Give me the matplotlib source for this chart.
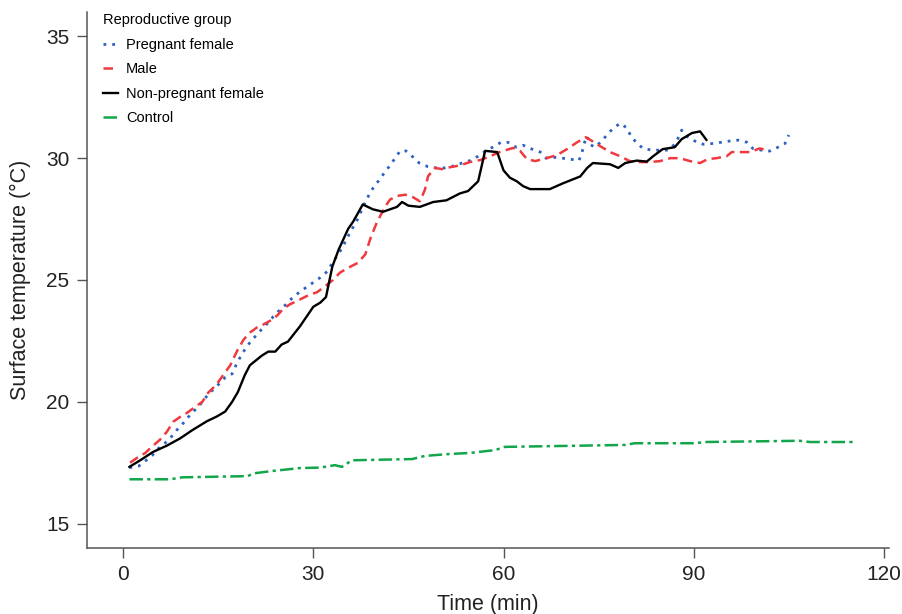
import matplotlib.pyplot as plt

# Surface temperature over time, per reproductive group
preg_t = [1.0, 2.4, 3.5, 4.6, 5.5, 6.6, 7.6, 8.5, 9.5, 10.3, 11.2, 12.1, 13.1, 14.0, 15.0,
          16.1, 17.2, 17.8, 18.4, 19.1, 19.9, 20.8, 21.8, 22.7, 23.7, 24.6, 25.7, 26.6,
          27.8, 28.9, 30.0, 31.1, 32.2, 33.0, 33.7, 34.4, 35.0, 35.8, 37.0, 38.2, 38.8,
          39.6, 40.4, 41.2, 42.1, 42.9, 43.7, 44.6, 45.7, 46.7, 48.1, 49.4, 50.8, 52.0,
          53.5, 54.7, 56.0, 57.2, 58.3, 59.6, 60.7, 62.0, 63.1, 64.5, 65.8, 66.7, 67.8,
          69.2, 70.5, 71.9, 72.4, 72.7, 73.2, 73.6, 74.4, 75.5, 76.3, 77.3, 78.4, 79.5,
          80.0, 80.9, 82.0, 83.4, 84.7, 86.0, 87.0, 87.7, 88.1, 88.9, 90.2, 91.5, 92.9,
          94.3, 95.6, 97.0, 98.4, 99.3, 100.6, 102.0, 103.3, 104.4, 105.0]
preg_y = [17.3, 17.35, 17.57, 17.8, 18.07, 18.3, 18.56, 18.85, 19.13, 19.38, 19.63, 19.87,
          20.2, 20.45, 20.7, 21.0, 21.15, 21.5, 21.8, 22.1, 22.4, 22.67, 22.96, 23.2, 23.5,
          23.74, 24.0, 24.24, 24.5, 24.7, 24.9, 25.1, 25.35, 25.7, 25.97, 26.25, 26.55,
          26.95, 27.5, 28.2, 28.5, 28.85, 29.1, 29.4, 29.7, 30.0, 30.3, 30.3, 30.05, 29.8,
          29.65, 29.6, 29.6, 29.67, 29.8, 29.9, 30.08, 30.3, 30.45, 30.65, 30.65, 30.45,
          30.53, 30.37, 30.25, 30.0, 30.04, 30.0, 29.96, 29.9, 30.25, 30.6, 30.9, 30.57,
          30.45, 30.7, 30.95, 31.23, 31.43, 31.23, 30.95, 30.65, 30.4, 30.33, 30.33, 30.33,
          30.57, 30.9, 31.15, 30.9, 30.7, 30.57, 30.6, 30.65, 30.7, 30.74, 30.65, 30.4,
          30.33, 30.29, 30.45, 30.6, 30.95]

male_t = [1.1, 2.2, 3.5, 4.3, 5.8, 6.9, 7.9, 9.0, 10.1, 11.4, 12.5, 13.4, 14.7, 15.8, 16.9,
          18.0, 19.0, 20.0, 21.1, 22.1, 23.2, 24.3, 25.2, 26.3, 27.9, 29.2, 30.6, 31.8,
          33.1, 34.2, 35.5, 37.0, 38.2, 39.0, 40.0, 41.3, 42.1, 43.2, 44.5, 45.7, 46.8,
          47.6, 48.1, 49.2, 50.3, 51.6, 53.1, 54.7, 56.3, 57.9, 59.4, 61.5, 62.6, 63.7,
          65.0, 66.2, 68.4, 70.0, 71.6, 73.0, 74.0, 75.2, 76.8, 78.4, 79.9, 81.5, 83.1,
          84.7, 86.3, 87.8, 89.4, 91.0, 92.2, 93.6, 95.2, 96.0, 97.8, 98.9, 100.4, 101.5]
male_y = [17.5, 17.7, 17.9, 18.1, 18.44, 18.77, 19.18, 19.38, 19.55, 19.8, 20.0, 20.37, 20.7,
          21.1, 21.5, 22.1, 22.55, 22.84, 23.05, 23.17, 23.33, 23.54, 23.8, 24.0, 24.2,
          24.37, 24.5, 24.73, 25.0, 25.3, 25.5, 25.7, 26.05, 26.7, 27.35, 28.0, 28.3, 28.45,
          28.5, 28.4, 28.23, 28.7, 29.26, 29.6, 29.55, 29.63, 29.7, 29.84, 29.92, 30.08,
          30.25, 30.42, 30.3, 29.96, 29.88, 29.96, 30.12, 30.37, 30.65, 30.86, 30.7, 30.5,
          30.25, 30.08, 29.88, 29.84, 29.84, 29.88, 30.0, 30.0, 29.88, 29.8, 29.96, 30.0,
          30.08, 30.25, 30.25, 30.25, 30.4, 30.33]

nonpreg_t = [1.0, 2.7, 4.7, 6.9, 9.0, 11.0, 13.2, 14.8, 16.1, 17.2, 18.1, 19.2, 20.0, 21.9,
             22.9, 24.0, 25.0, 26.0, 27.9, 30.0, 31.1, 32.0, 33.0, 34.0, 35.5, 36.3, 37.8,
             39.4, 41.0, 43.2, 44.0, 45.0, 46.8, 48.9, 51.0, 53.1, 54.4, 56.0, 57.1, 59.0,
             60.0, 61.0, 62.1, 63.1, 64.2, 67.3, 69.4, 72.1, 73.2, 74.1, 76.8, 78.1, 79.2,
             81.0, 82.6, 83.6, 85.1, 87.0, 88.1, 89.7, 91.0, 92.0]
nonpreg_y = [17.33, 17.6, 17.94, 18.2, 18.5, 18.85, 19.2, 19.4, 19.6, 20.0, 20.4, 21.1, 21.5,
             21.9, 22.06, 22.06, 22.35, 22.47, 23.1, 23.9, 24.07, 24.3, 25.55, 26.25, 27.1,
             27.4, 28.1, 27.9, 27.8, 28.0, 28.2, 28.05, 28.0, 28.2, 28.27, 28.55, 28.65,
             29.05, 30.3, 30.25, 29.5, 29.2, 29.05, 28.85, 28.73, 28.73, 28.97, 29.25, 29.6,
             29.8, 29.75, 29.6, 29.8, 29.9, 29.86, 30.08, 30.37, 30.45, 30.78, 31.03, 31.1,
             30.75]

control_t = [1.0, 7.4, 9.3, 19.6, 20.8, 23.5, 27.9, 31.1, 33.4, 34.5, 36.1, 45.6, 47.6, 51.6,
             54.7, 58.7, 60.2, 79.2, 80.7, 90.2, 91.8, 106.7, 108.3, 115.7]
control_y = [16.82, 16.82, 16.9, 16.95, 17.07, 17.16, 17.28, 17.3, 17.4, 17.33, 17.6, 17.65,
             17.78, 17.86, 17.9, 18.02, 18.15, 18.23, 18.3, 18.3, 18.35, 18.4, 18.35, 18.35]

x_ticks = [0, 30, 60, 90, 120]
y_ticks = [15, 20, 25, 30, 35]

plt.rcParams['font.family'] = ['Liberation Sans', 'DejaVu Sans']

fig = plt.figure(figsize=(9.03, 6.14), dpi=100)
ax = fig.add_axes([0.0963, 0.1075, 0.8882, 0.873])

ax.plot(preg_t, preg_y, color='#2f62c0', lw=2.0, linestyle=(0, (1, 2.15)),
        label='Pregnant female')
ax.plot(male_t, male_y, color='#f0393f', lw=1.8, linestyle=(0, (3.8, 2.2)), label='Male')
ax.plot(nonpreg_t, nonpreg_y, color='black', lw=1.7, label='Non-pregnant female')
ax.plot(control_t, control_y, color='#12a64a', lw=1.8,
        linestyle=(0, (5.4, 1.7, 1.3, 1.7)), label='Control')

ax.set_xlim(-5.7, 120.8)
ax.set_ylim(14.0, 36.0)
ax.set_xticks(x_ticks)
ax.set_yticks(y_ticks)

for side in ['top', 'right']:
    ax.spines[side].set_visible(False)
for side in ['left', 'bottom']:
    ax.spines[side].set_color('#555555')
    ax.spines[side].set_linewidth(1.1)
ax.tick_params(direction='out', length=7.5, width=1.0, color='#555555',
               labelsize=15, labelcolor='#222222', pad=5)

ax.set_xlabel('Time (min)', fontsize=15.5, color='#222222', labelpad=7)
ax.set_ylabel('Surface temperature (°C)', fontsize=15.5, color='#222222', labelpad=11)

leg = ax.legend(loc='upper left', bbox_to_anchor=(0.004, 1.022), frameon=False,
                title='Reproductive group', alignment='left', fontsize=10.5,
                title_fontsize=10.5, handlelength=1.0, handletextpad=0.55,
                labelspacing=0.72)

fig.savefig('out.png', dpi=100)
